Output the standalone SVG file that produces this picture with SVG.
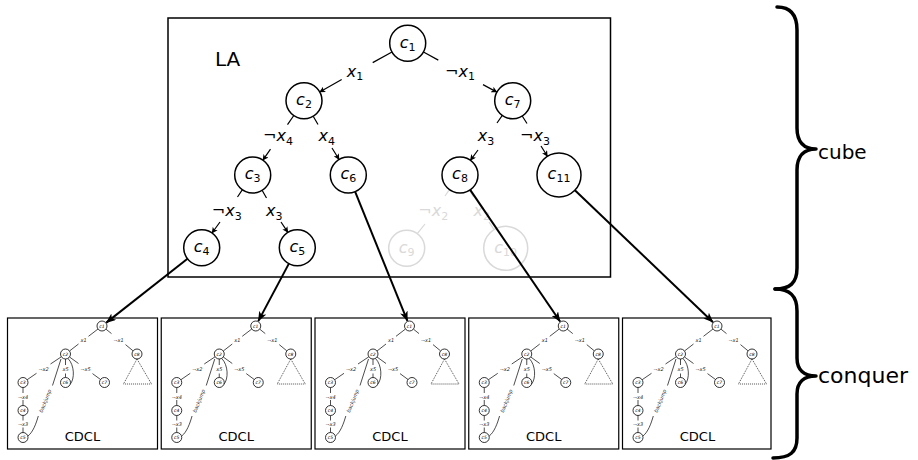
<svg xmlns="http://www.w3.org/2000/svg" xmlns:xlink="http://www.w3.org/1999/xlink" width="918" height="460" viewBox="0 0 918 460">
<style>
text{font-family:"DejaVu Sans","Liberation Sans",sans-serif;fill:#000}
.it{font-style:italic;font-size:16px}
.sub{font-size:11px;font-style:normal}
.nc{fill:#fff;stroke:#000;stroke-width:1.5}
.fc{fill:#fff;stroke:#d9d9d9;stroke-width:1.5}
.ft{fill:#d9d9d9}
.e{fill:none;stroke:#000;stroke-width:1.2}
.fe{fill:none;stroke:#d9d9d9;stroke-width:1.2}
.con{fill:none;stroke:#000;stroke-width:2}
.box{fill:#fff;stroke:#000;stroke-width:1.2}
.brace{fill:none;stroke:#000;stroke-width:3.5;stroke-linecap:round;stroke-linejoin:round}
.mc{fill:#fff;stroke:#000;stroke-width:0.8}
.me{fill:none;stroke:#000;stroke-width:0.7}
.ml{font-style:italic;font-size:5px;fill:#222}
.mn{font-style:italic;font-size:4.5px}
.cdcl{font-size:13px}
</style>
<defs>
<marker id="ah" viewBox="0 0 6 6" refX="5.5" refY="3" markerWidth="6" markerHeight="6" markerUnits="userSpaceOnUse" orient="auto">
<path d="M0,0 L6,3 L0,6 L1.5,3 Z" fill="#000"/>
</marker>
<marker id="ahc" viewBox="0 0 10 8" refX="9.5" refY="4" markerWidth="10" markerHeight="8" markerUnits="userSpaceOnUse" orient="auto">
<path d="M0,0 L10,4 L0,8 L2.5,4 Z" fill="#000"/>
</marker>
<g id="mini">
<g class="me">
<path d="M90.5,11 L81,18.3 M71,26 L62,33"/>
<path d="M98.4,11.1 L104,15.6 M118,26.6 L125.6,32.9"/>
<path d="M53.8,38.8 L43,46 M29,55.3 L19.7,61.7"/>
<path d="M58,41 L58,47 M58,55.5 L58,59.5"/>
<path d="M62,39 L71,45.5 M85,55.6 L93,61.5"/>
<path d="M15.5,69.5 L15.5,75 M15.5,82 L15.5,87.5"/>
<path d="M15.5,97.5 L15.5,102.5 M15.5,109.5 L15.5,114.5"/>
<path d="M60.5,40.5 C67,47 67.5,61 62.5,66.5"/>
<path d="M53.5,41 L45,67.5 M30.8,98 C28.5,106 25.5,114 20.5,118"/>
<path d="M129.5,41 L116,66 L144,66 Z" stroke-dasharray="1,1"/>
</g>
<circle class="mc" cx="94.5" cy="8" r="5"/>
<circle class="mc" cx="58" cy="36" r="5"/>
<circle class="mc" cx="129.5" cy="36" r="5"/>
<circle class="mc" cx="15.5" cy="64.5" r="5"/>
<circle class="mc" cx="58" cy="64.5" r="5"/>
<circle class="mc" cx="97" cy="64.5" r="5"/>
<circle class="mc" cx="15.5" cy="92.5" r="5"/>
<circle class="mc" cx="15.5" cy="119.5" r="5"/>
<g text-anchor="middle">
<text class="mn" x="94.5" y="9.5">c1</text>
<text class="mn" x="58" y="37.5">c2</text>
<text class="mn" x="129.5" y="37.5">c8</text>
<text class="mn" x="15.5" y="66">c3</text>
<text class="mn" x="58" y="66">c6</text>
<text class="mn" x="97" y="66">c7</text>
<text class="mn" x="15.5" y="94">c4</text>
<text class="mn" x="15.5" y="121">c5</text>
<text class="ml" x="76" y="24">x1</text>
<text class="ml" x="111" y="24">¬x1</text>
<text class="ml" x="36" y="52.5">¬x2</text>
<text class="ml" x="58" y="53">x5</text>
<text class="ml" x="78" y="52.5">¬x5</text>
<text class="ml" x="15.5" y="80.5">¬x4</text>
<text class="ml" x="15.5" y="108">¬x3</text>
<text class="ml" transform="translate(37.8,83) rotate(-68)" x="0" y="1.7">backjump</text>
</g>
</g>
</defs>

<g id="LA">
<rect x="168" y="18" width="442.5" height="259" fill="#fff" stroke="#000" stroke-width="1.5"/>
<text x="215" y="66" font-size="20">LA</text>
</g>

<g id="tree-edges">
<path class="e" d="M392,52 L372.7,62.6 M341.7,79.6 L319.7,92" marker-end="url(#ah)"/>
<path class="e" d="M423.5,52 L438.3,60.1 M483,84.6 L496.9,92.1" marker-end="url(#ah)"/>
<path class="e" d="M293.8,115.5 L287.5,124.6 M270.5,149.2 L262.9,160.2" marker-end="url(#ah)"/>
<path class="e" d="M313.2,116.2 L318,124.5 M332,148 L339.1,159.5" marker-end="url(#ah)"/>
<path class="e" d="M502.3,115.4 L497,123 M478,150 L470.4,160.3" marker-end="url(#ah)"/>
<path class="e" d="M522.2,116 L527,123.5 M541,146 L547.4,156.3" marker-end="url(#ah)"/>
<path class="e" d="M242.4,189.7 L237.5,197 M220,222 L212,233" marker-end="url(#ah)"/>
<path class="e" d="M262.1,190.3 L266.5,198 M281,222 L287.9,232.4" marker-end="url(#ah)"/>
<path class="fe" d="M449.4,189.6 L445,196 M425,224 L417.3,233.7"/>
<path class="fe" d="M469.5,190.3 L473.5,197 M489,222 L494,229.6"/>
</g>

<g id="tree-labels" class="it" text-anchor="middle">
<text x="355" y="76.5">x<tspan class="sub" dy="3.5">1</tspan></text>
<text x="460" y="76.5">¬x<tspan class="sub" dy="3.5">1</tspan></text>
<text x="278" y="141">¬x<tspan class="sub" dy="3.5">4</tspan></text>
<text x="326.7" y="141">x<tspan class="sub" dy="3.5">4</tspan></text>
<text x="486" y="141">x<tspan class="sub" dy="3.5">3</tspan></text>
<text x="535" y="141">¬x<tspan class="sub" dy="3.5">3</tspan></text>
<text x="226.7" y="216">¬x<tspan class="sub" dy="3.5">3</tspan></text>
<text x="274.3" y="216">x<tspan class="sub" dy="3.5">3</tspan></text>
<text class="ft" x="433.3" y="216">¬x<tspan class="sub" dy="3.5">2</tspan></text>
<text class="ft" x="481.7" y="216">x<tspan class="sub" dy="3.5">2</tspan></text>
</g>

<g id="c1"><circle class="nc" cx="407.7" cy="43.3" r="18"/><text class="it" x="407.7" y="47.5" text-anchor="middle">c<tspan class="sub" dy="3">1</tspan></text></g>
<g id="c2"><circle class="nc" cx="304" cy="100.7" r="18"/><text class="it" x="304" y="104.9" text-anchor="middle">c<tspan class="sub" dy="3">2</tspan></text></g>
<g id="c7"><circle class="nc" cx="512.7" cy="100.7" r="18"/><text class="it" x="512.7" y="104.9" text-anchor="middle">c<tspan class="sub" dy="3">7</tspan></text></g>
<g id="c3"><circle class="nc" cx="252.7" cy="175" r="18"/><text class="it" x="252.7" y="179.2" text-anchor="middle">c<tspan class="sub" dy="3">3</tspan></text></g>
<g id="c6"><circle class="nc" cx="348.3" cy="175" r="18"/><text class="it" x="348.3" y="179.2" text-anchor="middle">c<tspan class="sub" dy="3">6</tspan></text></g>
<g id="c8"><circle class="nc" cx="460" cy="175" r="18"/><text class="it" x="460" y="179.2" text-anchor="middle">c<tspan class="sub" dy="3">8</tspan></text></g>
<g id="c11"><circle class="nc" cx="559" cy="175" r="22"/><text class="it" x="559" y="179.2" text-anchor="middle">c<tspan class="sub" dy="3">11</tspan></text></g>
<g id="c4"><circle class="nc" cx="201.7" cy="247.7" r="18"/><text class="it" x="201.7" y="251.9" text-anchor="middle">c<tspan class="sub" dy="3">4</tspan></text></g>
<g id="c5"><circle class="nc" cx="297.3" cy="247.7" r="18"/><text class="it" x="297.3" y="251.9" text-anchor="middle">c<tspan class="sub" dy="3">5</tspan></text></g>
<g id="c9"><circle class="fc" cx="406.7" cy="248.3" r="18"/><text class="it ft" x="406.7" y="252.5" text-anchor="middle">c<tspan class="sub" dy="3">9</tspan></text></g>
<g id="c10"><circle class="fc" cx="505.7" cy="248.3" r="22"/><text class="it ft" x="505.7" y="252.5" text-anchor="middle">c<tspan class="sub" dy="3">10</tspan></text></g>

<g id="cdcl1"><rect class="box" x="7.5" y="318" width="150" height="131"/><use xlink:href="#mini" href="#mini" x="7.5" y="318"/><text class="cdcl" x="82.5" y="441" text-anchor="middle">CDCL</text></g>
<g id="cdcl2"><rect class="box" x="161.25" y="318" width="150" height="131"/><use xlink:href="#mini" href="#mini" x="161.25" y="318"/><text class="cdcl" x="236.25" y="441" text-anchor="middle">CDCL</text></g>
<g id="cdcl3"><rect class="box" x="315" y="318" width="150" height="131"/><use xlink:href="#mini" href="#mini" x="315" y="318"/><text class="cdcl" x="390" y="441" text-anchor="middle">CDCL</text></g>
<g id="cdcl4"><rect class="box" x="468.75" y="318" width="150" height="131"/><use xlink:href="#mini" href="#mini" x="468.75" y="318"/><text class="cdcl" x="543.75" y="441" text-anchor="middle">CDCL</text></g>
<g id="cdcl5"><rect class="box" x="622.5" y="318" width="148.5" height="131"/><use xlink:href="#mini" href="#mini" x="622.5" y="318"/><text class="cdcl" x="697.5" y="441" text-anchor="middle">CDCL</text></g>

<g id="connectors" class="con">
<path d="M187.5,258.8 L106.3,322.6" marker-end="url(#ahc)"/>
<path d="M288.9,263.6 L258.3,321.1" marker-end="url(#ahc)"/>
<path d="M355.1,191.7 L407.4,320.9" marker-end="url(#ahc)"/>
<path d="M470.2,189.9 L560.1,321.5" marker-end="url(#ahc)"/>
<path d="M574.9,190.2 L713,322.2" marker-end="url(#ahc)"/>
</g>

<g id="braces">
<path class="brace" d="M777,7 C790,7 797,14 797,30 L797,128 C797,142 804,149 816,149 C804,149 797,156 797,170 L797,268 C797,283 790,289 775,289"/>
<path class="brace" d="M775,289 C790,289 797,296 797,311 L797,358 C797,370 804,376 816,376 C804,376 797,382 797,394 L797,438 C797,452 790,458 773,458"/>
<text x="818" y="159" font-size="20">cube</text>
<text x="818" y="383" font-size="22">conquer</text>
</g>
</svg>
